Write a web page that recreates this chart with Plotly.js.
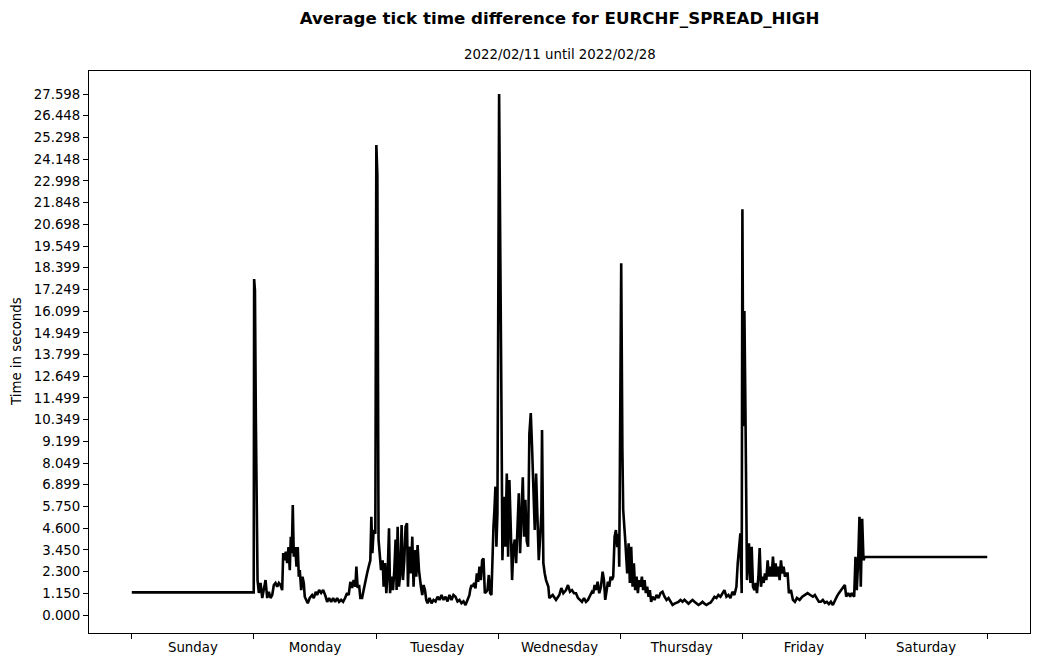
<!DOCTYPE html>
<html>
<head>
<meta charset="utf-8">
<script src="https://cdn.plot.ly/plotly-3.0.1.min.js"></script>
<style>html,body{margin:0;padding:0;background:#fff;}#chart{width:1039px;height:664px;}</style>
</head>
<body>
<div id="chart"></div>
<script>
// Hours since Sunday 00:00 and average tick time difference (seconds)
const sundayT = [0, 23.95];
const sundayV = [1.2, 1.2];

const mondayT = [24.03, 24.19, 24.37, 24.54, 24.70, 24.96, 25.29, 25.62, 25.94, 26.27, 26.60, 26.92, 27.25, 27.58, 27.90, 28.23, 28.56, 28.88, 29.21, 29.54, 29.74, 29.99, 30.25, 30.52, 30.78, 31.03, 31.23, 31.43, 31.62, 31.82, 32.09, 32.35, 32.60, 32.80, 32.99, 33.27, 33.52, 33.78, 33.97, 34.31, 34.56, 34.95, 35.42, 35.74, 36.13, 36.40, 36.80, 37.19, 37.58, 37.97, 38.37, 38.76, 39.15, 39.54, 39.93, 40.33, 40.72, 41.11, 41.50, 41.89, 42.29, 42.60, 42.93, 43.27, 43.58, 43.91, 44.11, 44.36, 44.64, 44.89, 45.23, 45.54, 45.87, 46.21, 46.52, 46.85, 47.05, 47.25, 47.50, 47.83];
const mondayV = [17.8, 17.2, 10.4, 7.1, 1.85, 1.17, 1.7, 0.9, 1.5, 1.85, 0.9, 1.23, 0.9, 1.06, 1.59, 1.7, 1.5, 1.7, 1.59, 1.32, 3.28, 2.9, 3.35, 2.75, 3.6, 2.38, 4.15, 3.28, 5.83, 3.09, 3.6, 2.56, 3.6, 2.03, 2.38, 1.32, 2.03, 1.7, 0.97, 0.7, 0.62, 0.9, 1.06, 0.9, 1.23, 1.06, 1.32, 1.17, 1.32, 1.06, 0.7, 0.9, 0.7, 0.9, 0.7, 0.9, 0.7, 0.8, 0.7, 0.9, 1.17, 1.06, 1.76, 1.43, 1.85, 1.5, 2.56, 1.43, 1.59, 0.9, 0.9, 1.32, 1.85, 2.2, 2.56, 2.9, 5.2, 3.28, 4.5, 4.3];

const tuesdayT = [48.03, 48.23, 48.46, 48.62, 48.95, 49.27, 49.46, 49.74, 49.99, 50.25, 50.52, 50.72, 51.03, 51.30, 51.56, 51.81, 52.01, 52.21, 52.48, 52.74, 52.99, 53.26, 53.52, 53.77, 54.05, 54.24, 54.50, 54.83, 55.09, 55.34, 55.62, 55.87, 56.13, 56.40, 56.60, 56.79, 57.05, 57.30, 57.58, 57.83, 58.09, 58.48, 58.87, 59.26, 59.66, 60.05, 60.44, 60.83, 61.22, 61.62, 62.01, 62.40, 62.79, 63.18, 63.58, 63.97, 64.36, 64.75, 65.15, 65.54, 65.93, 66.32, 66.46, 66.71, 66.99, 67.24, 67.50, 67.77, 68.03, 68.28, 68.56, 68.81, 69.07, 69.34, 69.59, 69.85, 70.12, 70.38, 70.63, 70.83, 71.03, 71.22, 71.42, 71.61, 71.81];
const tuesdayV = [24.9, 23.3, 4.0, 3.44, 2.38, 2.9, 1.5, 2.75, 1.16, 2.2, 4.6, 1.16, 2.03, 1.32, 2.38, 4.0, 1.32, 4.68, 1.5, 2.2, 4.77, 1.85, 2.9, 4.68, 4.86, 1.5, 3.62, 2.2, 4.15, 1.5, 3.44, 2.03, 3.7, 2.38, 1.85, 1.5, 1.06, 1.59, 1.32, 0.8, 0.62, 0.9, 0.62, 0.8, 0.72, 0.97, 0.8, 1.06, 0.8, 0.97, 0.72, 1.06, 0.8, 1.06, 0.97, 0.72, 0.8, 0.62, 0.72, 0.53, 0.8, 1.06, 1.32, 1.59, 1.5, 1.7, 1.41, 2.2, 1.76, 2.56, 1.85, 2.9, 3.0, 1.16, 1.23, 1.32, 2.12, 1.16, 1.06, 3.28, 4.66, 5.56, 6.8, 3.62, 5.4];

const wednesdayT = [72.14, 72.40, 72.59, 72.79, 73.12, 73.38, 73.65, 73.91, 74.16, 74.44, 74.69, 74.95, 75.22, 75.48, 75.73, 76.01, 76.26, 76.51, 76.79, 77.04, 77.30, 77.57, 77.83, 78.08, 78.36, 78.61, 78.87, 79.14, 79.40, 79.65, 79.93, 80.18, 80.44, 80.57, 80.83, 81.10, 81.36, 81.81, 82.00, 82.67, 83.32, 83.96, 84.36, 84.75, 85.28, 85.67, 86.06, 86.45, 86.85, 87.24, 87.63, 88.02, 88.41, 88.81, 89.20, 89.59, 89.98, 90.37, 90.63, 90.90, 91.16, 91.49, 91.81, 92.14, 92.47, 92.73, 92.98, 93.26, 93.51, 93.77, 94.04, 94.30, 94.55, 94.82, 95.08, 95.34, 95.61, 95.73];
const wednesdayV = [27.598, 20.3, 11.4, 2.9, 6.27, 3.62, 7.5, 3.09, 7.15, 4.5, 1.85, 3.62, 4.0, 2.75, 4.66, 6.45, 3.28, 5.0, 7.3, 4.15, 6.1, 3.9, 3.62, 9.6, 10.7, 8.9, 6.27, 4.5, 7.5, 5.74, 2.9, 4.0, 5.4, 9.8, 2.75, 2.2, 1.85, 1.5, 0.9, 1.06, 0.8, 1.06, 1.43, 1.15, 1.32, 1.59, 1.23, 1.32, 1.15, 1.15, 0.9, 0.8, 0.7, 0.9, 0.7, 0.8, 1.0, 1.23, 1.15, 1.59, 1.32, 1.76, 1.15, 1.5, 2.3, 1.85, 0.8, 1.32, 1.76, 1.5, 2.03, 1.85, 2.03, 4.15, 4.5, 3.6, 4.3, 2.56];

const thursdayT = [95.86, 96.12, 96.35, 96.51, 96.90, 97.30, 97.57, 97.82, 98.08, 98.35, 98.61, 98.86, 99.14, 99.39, 99.65, 99.92, 100.18, 100.43, 100.71, 100.96, 101.22, 101.49, 101.74, 102.00, 102.27, 102.67, 103.06, 103.45, 103.84, 104.23, 104.63, 105.02, 105.41, 105.80, 106.20, 106.59, 106.98, 107.37, 107.76, 108.16, 108.55, 108.94, 109.33, 109.72, 110.12, 110.51, 110.90, 111.29, 111.68, 112.08, 112.47, 112.86, 113.25, 113.64, 114.04, 114.43, 114.82, 115.21, 115.61, 116.00, 116.39, 116.78, 117.17, 117.57, 117.96, 118.35, 118.74, 119.00, 119.25, 119.52, 119.78];
const thursdayV = [9.45, 18.63, 8.74, 5.56, 4.0, 2.2, 3.8, 1.7, 3.62, 1.5, 2.74, 1.32, 2.03, 1.16, 1.85, 1.5, 2.03, 1.32, 1.85, 1.16, 1.5, 0.97, 1.32, 0.7, 0.97, 0.8, 1.06, 0.9, 1.16, 1.23, 0.97, 0.8, 0.9, 0.7, 0.53, 0.6, 0.65, 0.7, 0.8, 0.7, 0.8, 0.7, 0.6, 0.7, 0.8, 0.7, 0.6, 0.53, 0.6, 0.7, 0.6, 0.53, 0.6, 0.65, 0.8, 0.97, 0.9, 1.06, 0.97, 1.16, 1.32, 0.97, 1.06, 0.9, 1.23, 1.06, 1.5, 2.74, 3.44, 4.33, 1.16];

const fridayT = [119.92, 120.11, 120.31, 120.51, 120.66, 120.82, 121.21, 121.49, 121.74, 122.00, 122.27, 122.53, 122.78, 123.06, 123.31, 123.57, 123.84, 124.09, 124.35, 124.62, 124.88, 125.13, 125.41, 125.66, 125.92, 126.19, 126.45, 126.70, 126.98, 127.23, 127.49, 127.76, 128.01, 128.27, 128.54, 128.80, 129.05, 129.45, 129.84, 130.23, 130.62, 131.15, 131.68, 132.19, 132.72, 133.25, 133.76, 134.15, 134.54, 134.94, 135.33, 135.72, 136.11, 136.50, 136.90, 137.29, 137.68, 138.07, 138.46, 138.86, 139.25, 139.64, 140.03, 140.31, 140.70, 141.09, 141.34, 141.60, 141.87, 142.13, 142.38, 142.66, 142.91, 143.17, 143.44, 143.70];
const fridayV = [21.5, 10.0, 16.1, 11.0, 3.8, 1.85, 3.8, 1.7, 3.62, 1.5, 1.32, 1.7, 1.16, 2.03, 3.55, 1.5, 2.03, 1.7, 2.2, 1.85, 2.9, 2.03, 2.56, 2.03, 3.09, 2.03, 2.74, 2.03, 2.56, 1.85, 2.9, 2.2, 2.56, 2.03, 2.2, 2.2, 1.16, 1.32, 0.8, 0.7, 0.9, 0.8, 0.97, 1.06, 1.16, 1.06, 0.97, 1.06, 0.9, 0.7, 0.7, 0.8, 0.65, 0.7, 0.58, 0.7, 0.53, 0.8, 0.97, 1.16, 1.32, 1.5, 1.59, 0.97, 1.16, 0.97, 1.16, 1.06, 0.97, 3.09, 1.32, 2.9, 5.2, 1.5, 5.1, 2.9];

const saturdayT = [143.95, 168];
const saturdayV = [3.07, 3.07];

const dayNames = ['Sunday', 'Monday', 'Tuesday', 'Wednesday', 'Thursday', 'Friday', 'Saturday'];
const yTickLabels = ['0.000', '1.150', '2.300', '3.450', '4.600', '5.750', '6.899', '8.049', '9.199', '10.349', '11.499', '12.649', '13.799', '14.949', '16.099', '17.249', '18.399', '19.549', '20.698', '21.848', '22.998', '24.148', '25.298', '26.448', '27.598'];

const xs = [].concat(sundayT, mondayT, tuesdayT, wednesdayT, thursdayT, fridayT, saturdayT);
const ys = [].concat(sundayV, mondayV, tuesdayV, wednesdayV, thursdayV, fridayV, saturdayV);

const FONT = 'DejaVu Sans, sans-serif';
const trace = {
  x: xs, y: ys, type: 'scatter', mode: 'lines',
  line: {color: '#000000', width: 2.6},
  hoverinfo: 'skip', showlegend: false
};

const layout = {
  width: 1039, height: 664,
  margin: {l: 89, r: 9, t: 71, b: 31, pad: 0},
  paper_bgcolor: '#ffffff', plot_bgcolor: '#ffffff',
  font: {family: FONT, size: 13.33, color: '#000000'},
  title: {
    text: '<b>Average tick time difference for EURCHF_SPREAD_HIGH</b>',
    font: {family: FONT, size: 16.67, color: '#000000'},
    x: 0.5, xref: 'paper', xanchor: 'center',
    y: 1 - 18 / 664, yref: 'container', yanchor: 'middle'
  },
  xaxis: {
    range: [-8.4, 176.4],
    tickmode: 'array',
    tickvals: dayNames.map((d, i) => 12 + 24 * i),
    ticktext: dayNames,
    ticks: 'outside', ticklen: 2, tickcolor: 'rgba(0,0,0,0)',
    minor: {tickmode: 'linear', tick0: 0, dtick: 24, ticks: 'outside', ticklen: 5, tickwidth: 1, tickcolor: '#000000', showgrid: false},
    showgrid: false, zeroline: false,
    showline: true, mirror: true, linecolor: '#000000', linewidth: 1,
    tickfont: {family: FONT, size: 13.33, color: '#000000'}
  },
  yaxis: {
    range: [-0.953, 28.82],
    tickmode: 'array',
    tickvals: yTickLabels.map(parseFloat),
    ticktext: yTickLabels,
    ticks: 'outside', ticklen: 5, tickwidth: 1, tickcolor: '#000000',
    showgrid: false, zeroline: false,
    showline: true, mirror: true, linecolor: '#000000', linewidth: 1,
    tickfont: {family: FONT, size: 13.33, color: '#000000'}
  },
  annotations: [
    {
      text: '2022/02/11 until 2022/02/28',
      xref: 'paper', yref: 'paper', x: 0.5, y: (633 - 54) / 562,
      xanchor: 'center', yanchor: 'middle', showarrow: false,
      font: {family: FONT, size: 13.33, color: '#000000'}
    },
    {
      text: 'Time in seconds',
      xref: 'paper', yref: 'paper', x: (16 - 89) / 941, y: 0.5,
      xanchor: 'center', yanchor: 'middle', textangle: -90, showarrow: false,
      font: {family: FONT, size: 13.33, color: '#000000'}
    }
  ]
};

Plotly.newPlot('chart', [trace], layout, {displayModeBar: false, staticPlot: true});
</script>
</body>
</html>
